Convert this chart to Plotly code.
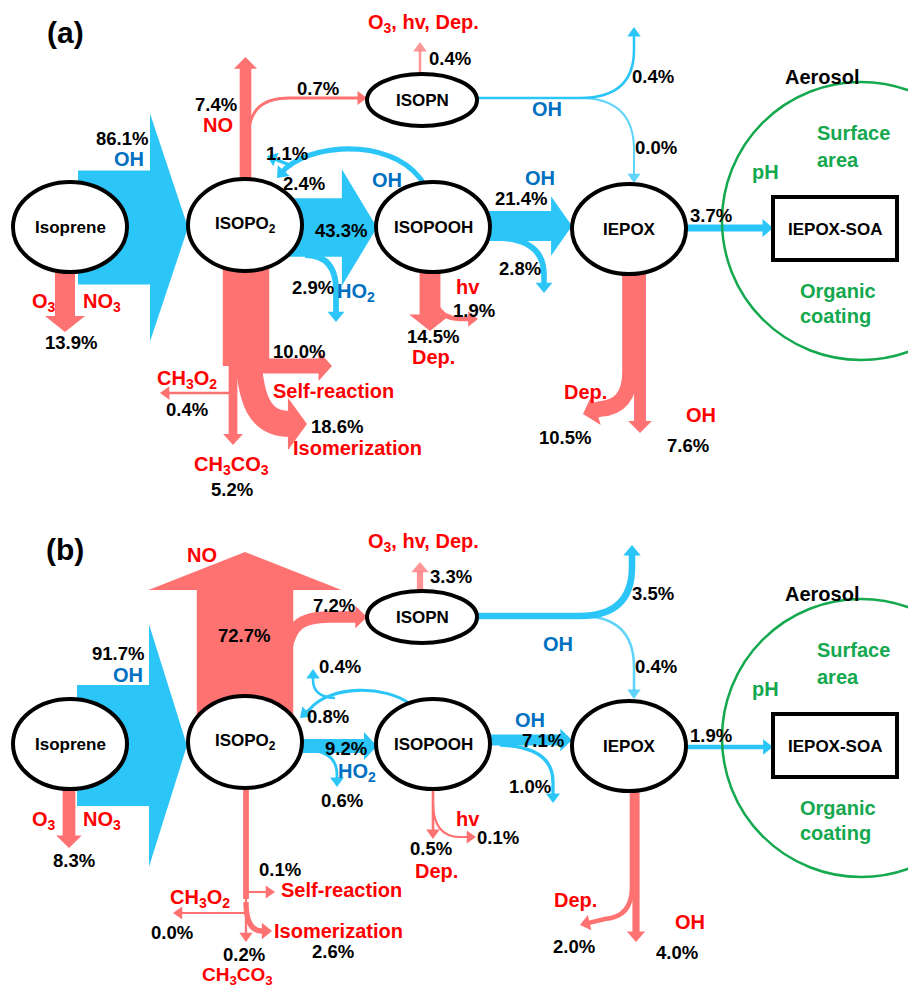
import plotly.graph_objects as go

# ---------------- data ----------------
FLOWS = ["oh_isop", "ro2_isopooh", "isopooh_iepox", "ho2_loss", "isopooh_loss",
         "loop_big", "loop_small", "no", "no_isopn", "isopn_loss", "isopn_oh_loss",
         "isopn_iepox", "iepox_soa", "isop_o3no3", "ro2_self", "ro2_ch3o2",
         "ro2_isom", "ro2_ch3co3", "isopooh_dep", "isopooh_hv", "iepox_dep", "iepox_oh"]
VALUES_A = [86.1, 43.3, 21.4, 2.9, 2.8, 2.4, 1.1, 7.4, 0.7, 0.4, 0.4,
            0.0, 3.7, 13.9, 10.0, 0.4, 18.6, 5.2, 14.5, 1.9, 10.5, 7.6]
VALUES_B = [91.7, 9.2, 7.1, 0.6, 1.0, 0.8, 0.4, 72.7, 7.2, 3.3, 3.5,
            0.4, 1.9, 8.3, 0.1, 0.0, 2.6, 0.2, 0.5, 0.1, 2.0, 4.0]
PANEL_LABELS = ["(a)", "(b)"]
PANEL_VALUES = [VALUES_A, VALUES_B]
PANEL_DY = [0, 517]

BLUE_FLOWS = {"oh_isop", "ro2_isopooh", "isopooh_iepox", "ho2_loss", "isopooh_loss",
              "loop_big", "loop_small", "isopn_oh_loss", "isopn_iepox", "iepox_soa"}

# ---------------- style ----------------
BLUE = "#2BC5F8"
PINK = "#FF7272"
RED_TXT = "#FF0000"
BLUE_TXT = "#0070C0"
GREEN = "#14A84F"
FONT = "Liberation Sans, Arial, sans-serif"


def width_of(v):
    return 1.3 * v + 2.0


# node layout (centre x, centre y, rx, ry) in panel coordinates
NODES = [("Isoprene", 70, 227, 57, 45),
         ("ISOPO<sub>2</sub>", 245, 225, 57, 46),
         ("ISOPOOH", 433, 227, 57, 45),
         ("IEPOX", 629, 229, 57, 45),
         ("ISOPN", 422, 100, 55, 26)]

# flow centre-line paths, per panel
PATHS_A = {
    "oh_isop": [("M", 78, 227.5), ("L", 188, 227.5)],
    "ro2_isopooh": [("M", 280, 227.5), ("L", 377, 227.5)],
    "isopooh_iepox": [("M", 485, 226), ("L", 572, 226)],
    "ho2_loss": [("M", 305, 255), ("Q", 336, 255, 336, 290), ("L", 336, 322)],
    "isopooh_loss": [("M", 500, 238), ("Q", 544, 240, 544, 275), ("L", 544, 293)],
    "loop_big": [("M", 425, 186), ("C", 400, 140, 320, 140, 286, 168), ("L", 277, 178)],
    "loop_small": [("M", 292, 166), ("L", 267, 156)],
    "no": [("M", 245.5, 195), ("L", 245.5, 57)],
    "no_isopn": [("M", 247, 150), ("C", 247, 112, 258, 98, 290, 98), ("L", 367, 98)],
    "isopn_loss": [("M", 420, 80), ("L", 420, 42)],
    "isopn_oh_loss": [("M", 470, 98), ("L", 580, 98), ("Q", 634, 98, 634, 50), ("L", 634, 27)],
    "isopn_iepox": [("M", 580, 98), ("Q", 634, 98, 634, 150), ("L", 634, 183)],
    "iepox_soa": [("M", 683, 228), ("L", 773, 228)],
    "isop_o3no3": [("M", 65, 262), ("L", 65, 332)],
    "ro2_self": [("M", 250, 366), ("L", 332, 366)],
    "ro2_ch3o2": [("M", 233, 393), ("L", 160, 393)],
    "ro2_isom": [("M", 248, 340), ("C", 248, 405, 262, 424, 290, 424), ("L", 307, 424)],
    "ro2_ch3co3": [("M", 233, 280), ("L", 233, 445)],
    "isopooh_dep": [("M", 430, 262), ("L", 430, 331)],
    "isopooh_hv": [("M", 432, 280), ("Q", 432, 319, 460, 319), ("L", 478, 319)],
    "iepox_dep": [("M", 630, 270), ("L", 630, 372), ("Q", 630, 407, 600, 409), ("L", 583, 414)],
    "iepox_oh": [("M", 640, 270), ("L", 640, 433)],
}
PATHS_B = {
    "oh_isop": [("M", 77, 228.5), ("L", 187, 228.5)],
    "ro2_isopooh": [("M", 280, 229), ("L", 377, 229)],
    "isopooh_iepox": [("M", 485, 223), ("L", 572, 223)],
    "ho2_loss": [("M", 305, 233), ("Q", 337, 233, 337, 258), ("L", 337, 270)],
    "isopooh_loss": [("M", 500, 228), ("Q", 553, 230, 553, 265), ("L", 553, 286)],
    "loop_big": [("M", 410, 187), ("C", 385, 168, 330, 168, 310, 192), ("L", 300, 201)],
    "loop_small": [("M", 335, 181), ("Q", 313, 180, 313, 163), ("L", 313, 152)],
    "no": [("M", 245, 200), ("L", 245, 35)],
    "no_isopn": [("M", 285, 140), ("C", 290, 108, 300, 100, 330, 100), ("L", 367, 100)],
    "isopn_loss": [("M", 420, 80), ("L", 420, 45)],
    "isopn_oh_loss": [("M", 470, 99), ("L", 580, 99), ("Q", 632, 99, 632, 50), ("L", 632, 28)],
    "isopn_iepox": [("M", 580, 99), ("Q", 634, 99, 634, 150), ("L", 634, 182)],
    "iepox_soa": [("M", 683, 230), ("L", 773, 230)],
    "isop_o3no3": [("M", 69, 262), ("L", 69, 331)],
    "ro2_self": [("M", 246, 375), ("L", 275, 375)],
    "ro2_ch3o2": [("M", 246, 396), ("L", 173, 396)],
    "ro2_isom": [("M", 246, 385), ("Q", 246, 414, 262, 414), ("L", 272, 414)],
    "ro2_ch3co3": [("M", 246, 380), ("L", 246, 425)],
    "isopooh_dep": [("M", 433, 262), ("L", 433, 322)],
    "isopooh_hv": [("M", 433, 285), ("Q", 433, 320, 460, 320), ("L", 476, 320)],
    "iepox_dep": [("M", 632, 270), ("L", 632, 370), ("Q", 632, 400, 605, 402), ("L", 580, 408)],
    "iepox_oh": [("M", 636, 270), ("L", 636, 425)],
}
PANEL_PATHS = [PATHS_A, PATHS_B]
# trunk below ISOPO2 (no head), x position per panel
TRUNK_X = [246, 246]
TRUNK_Y = [(262, 366), (262, 382)]

# value label positions per panel
VLAB_A = {"oh_isop": (122, 138), "ro2_isopooh": (341, 230), "isopooh_iepox": (521, 198),
          "ho2_loss": (313, 287), "isopooh_loss": (520, 268), "loop_big": (304, 183),
          "loop_small": (287, 153), "no": (216, 104), "no_isopn": (318, 88),
          "isopn_loss": (450, 58), "isopn_oh_loss": (653, 76), "isopn_iepox": (656, 147),
          "iepox_soa": (711, 215), "isop_o3no3": (71, 342), "ro2_self": (299, 351),
          "ro2_ch3o2": (187, 409), "ro2_isom": (337, 426), "ro2_ch3co3": (232, 489),
          "isopooh_dep": (433, 336), "isopooh_hv": (474, 310), "iepox_dep": (565, 437),
          "iepox_oh": (688, 445)}
VLAB_B = {"oh_isop": (118, 136), "ro2_isopooh": (346, 231), "isopooh_iepox": (543, 223),
          "ho2_loss": (342, 283), "isopooh_loss": (530, 269), "loop_big": (328, 199),
          "loop_small": (340, 149), "no": (244, 118), "no_isopn": (334, 88),
          "isopn_loss": (451, 59), "isopn_oh_loss": (653, 76), "isopn_iepox": (656, 149),
          "iepox_soa": (711, 218), "isop_o3no3": (74, 343), "ro2_self": (280, 352),
          "ro2_ch3o2": (172, 415), "ro2_isom": (333, 434), "ro2_ch3co3": (244, 437),
          "isopooh_dep": (431, 331), "isopooh_hv": (498, 320), "iepox_dep": (574, 429),
          "iepox_oh": (677, 435)}
PANEL_VLAB = [VLAB_A, VLAB_B]

# reactant / process labels per panel: (text, x, y, colour, size)
TLAB_A = [("OH", 129, 159, BLUE_TXT, 20), ("NO", 218, 125, RED_TXT, 20),
          ("OH", 387, 180, BLUE_TXT, 20),
          ("HO<sub>2</sub>", 356, 292, BLUE_TXT, 20),
          ("O<sub>3</sub>, hv, Dep.", 423, 23, RED_TXT, 20),
          ("OH", 547, 109, BLUE_TXT, 20), ("OH", 540, 178, BLUE_TXT, 20),
          ("O<sub>3</sub>", 44, 302, RED_TXT, 20), ("NO<sub>3</sub>", 102, 302, RED_TXT, 20),
          ("Self-reaction", 333, 391, RED_TXT, 20),
          ("CH<sub>3</sub>O<sub>2</sub>", 187, 379, RED_TXT, 20),
          ("Isomerization", 357, 448, RED_TXT, 20),
          ("CH<sub>3</sub>CO<sub>3</sub>", 231, 465, RED_TXT, 20),
          ("hv", 468, 287, RED_TXT, 20), ("Dep.", 433, 357, RED_TXT, 20),
          ("Dep.", 585, 392, RED_TXT, 20), ("OH", 701, 415, RED_TXT, 20)]
TLAB_B = [("OH", 128, 158, BLUE_TXT, 20), ("NO", 202, 38, RED_TXT, 20),
          ("HO<sub>2</sub>", 357, 255, BLUE_TXT, 20),
          ("O<sub>3</sub>, hv, Dep.", 423, 25, RED_TXT, 20),
          ("OH", 558, 127, BLUE_TXT, 20), ("OH", 530, 203, BLUE_TXT, 20),
          ("O<sub>3</sub>", 44, 303, RED_TXT, 20), ("NO<sub>3</sub>", 102, 303, RED_TXT, 20),
          ("Self-reaction", 341, 373, RED_TXT, 20),
          ("CH<sub>3</sub>O<sub>2</sub>", 200, 381, RED_TXT, 20),
          ("Isomerization", 338, 414, RED_TXT, 20),
          ("CH<sub>3</sub>CO<sub>3</sub>", 237, 459, RED_TXT, 19),
          ("hv", 468, 302, RED_TXT, 20), ("Dep.", 436, 354, RED_TXT, 20),
          ("Dep.", 575, 383, RED_TXT, 20), ("OH", 690, 405, RED_TXT, 20)]
PANEL_TLAB = [TLAB_A, TLAB_B]

shapes = []
annotations = []


def fmt(x, y):
    return f"{x:.2f},{y:.2f}"


def add_flow(cmds, dy, w, color, head=True, opacity=1.0):
    cmds = [list(c) for c in cmds]
    for c in cmds:
        for i in range(2, len(c), 2):
            c[i] += dy
    if head:
        last = cmds[-1]
        ex, ey = last[-2], last[-1]
        if last[0] == "L":
            px, py = cmds[-2][-2], cmds[-2][-1]
        elif last[0] == "Q":
            px, py = last[1], last[2]
        else:
            px, py = last[3], last[4]
        dx, dyy = ex - px, ey - py
        n = (dx * dx + dyy * dyy) ** 0.5
        ux, uy = dx / n, dyy / n
        hw = w + max(11.0, w)
        hl = min(38.0, 6 + 0.25 * hw)
        bx, by = ex - ux * hl, ey - uy * hl
        last[-2], last[-1] = bx + ux * 0.8, by + uy * 0.8
        nx, ny = -uy, ux
        tri = (f"M {fmt(ex, ey)} L {fmt(bx + nx * hw / 2, by + ny * hw / 2)} "
               f"L {fmt(bx - nx * hw / 2, by - ny * hw / 2)} Z")
    d = " ".join(c[0] + " " + " ".join(fmt(c[i], c[i + 1]) for i in range(1, len(c), 2))
                 for c in cmds)
    shapes.append(dict(type="path", path=d, xref="x", yref="y", opacity=opacity,
                       line=dict(color=color, width=w), fillcolor="rgba(0,0,0,0)"))
    if head:
        shapes.append(dict(type="path", path=tri, xref="x", yref="y", opacity=opacity,
                           line=dict(width=0), fillcolor=color))


def text(t, x, y, color="#000000", size=18, anchor="center"):
    annotations.append(dict(text=f"<b>{t}</b>", x=x, y=y, xref="x", yref="y",
                            showarrow=False, xanchor=anchor, yanchor="middle",
                            font=dict(family=FONT, size=size, color=color)))


for p, (plab, vals, dy) in enumerate(zip(PANEL_LABELS, PANEL_VALUES, PANEL_DY)):
    v = dict(zip(FLOWS, vals))
    paths = PANEL_PATHS[p]
    # flows
    trunk_val = v["ro2_self"] + v["ro2_ch3o2"] + v["ro2_isom"] + v["ro2_ch3co3"]
    tx = TRUNK_X[p]
    ty0, ty1 = TRUNK_Y[p]
    add_flow([("M", tx, ty0), ("L", tx, ty1)], dy, width_of(trunk_val), PINK, head=False)
    for name in FLOWS:
        col = BLUE if name in BLUE_FLOWS else PINK
        op = 0.75 if name in ("isopn_loss", "isopn_iepox") else 1.0
        add_flow(paths[name], dy, width_of(v[name]), col, opacity=op)
    # aerosol circle and SOA box
    shapes.append(dict(type="circle", xref="x", yref="y", x0=722, x1=1000,
                       y0=82 + dy, y1=360 + dy, line=dict(color=GREEN, width=2.5)))
    shapes.append(dict(type="rect", xref="x", yref="y", x0=773, x1=897,
                       y0=197 + dy, y1=260 + dy, fillcolor="white",
                       line=dict(color="black", width=4)))
    # nodes
    for lab, cx, cy, rx, ry in NODES:
        shapes.append(dict(type="circle", xref="x", yref="y", x0=cx - rx, x1=cx + rx,
                           y0=cy - ry + dy, y1=cy + ry + dy, fillcolor="white",
                           line=dict(color="black", width=4)))
        text(lab, cx, cy + dy, size=17)
    text("IEPOX-SOA", 835, 229 + dy, size=17)
    # panel tag and aerosol labels
    text(plab, 65, 32 + dy, size=30)
    text("Aerosol", 822, 77 + dy, size=20)
    text("Surface", 815, 133 + dy, GREEN, 20, "left")
    text("area", 815, 160 + dy, GREEN, 20, "left")
    text("pH", 765, 172 + dy, GREEN, 20)
    text("Organic", 798, 291 + dy, GREEN, 20, "left")
    text("coating", 798, 316 + dy, GREEN, 20, "left")
    # percentages
    for name, (x, y) in PANEL_VLAB[p].items():
        text(f"{v[name]:.1f}%", x, y + dy, size=18.5)
    # process labels
    for t, x, y, c, s in PANEL_TLAB[p]:
        text(t, x, y + dy, c, s)

fig = go.Figure(go.Scatter(x=[], y=[]))
fig.update_layout(width=908, height=989, margin=dict(l=0, r=0, t=0, b=0),
                  paper_bgcolor="white", plot_bgcolor="white", showlegend=False,
                  xaxis=dict(range=[0, 908], visible=False),
                  yaxis=dict(range=[989, 0], visible=False),
                  shapes=shapes, annotations=annotations)
fig.write_html("out.html", config={"displayModeBar": False},
               post_script="document.body.style.margin='0';document.body.style.overflow='hidden';")
